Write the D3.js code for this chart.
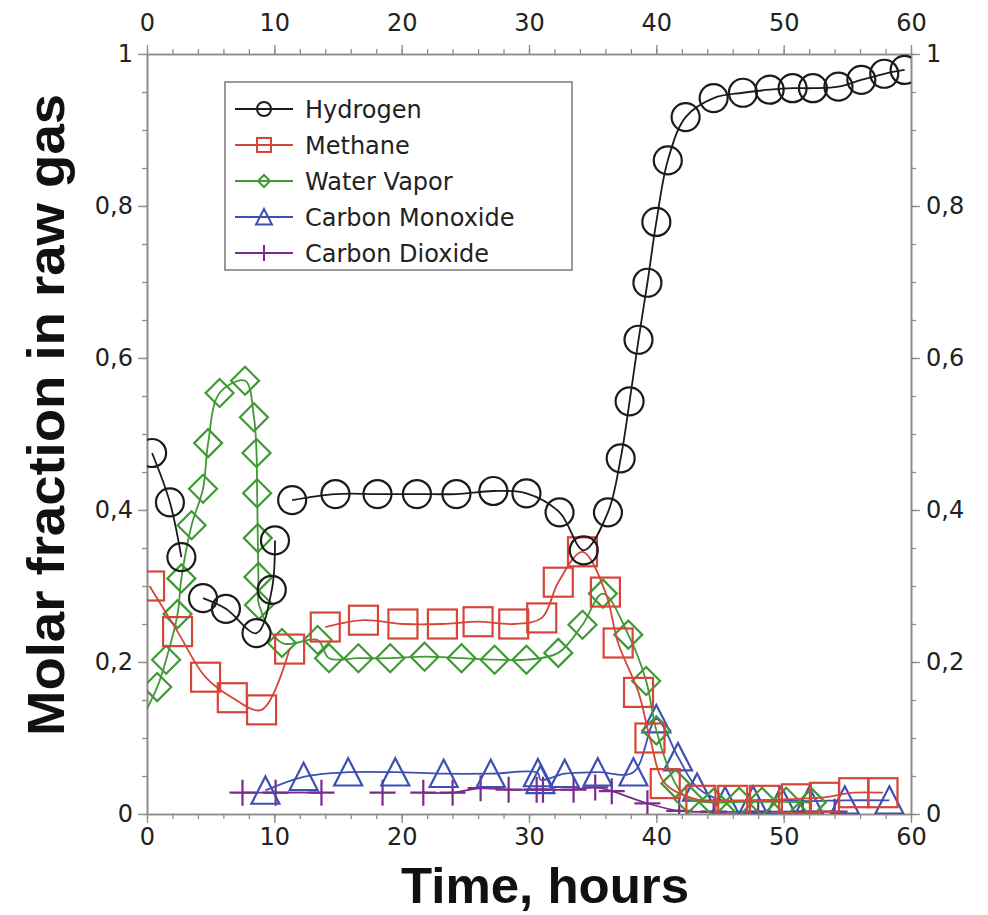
<!DOCTYPE html>
<html><head><meta charset="utf-8">
<script src="https://cdn.jsdelivr.net/npm/d3@7"></script>
<style>body{margin:0;background:#fff}svg{display:block}</style>
</head><body>
<svg id="c" width="988" height="915"></svg>
<script>
// ---------------- data ----------------
const xTicks = [0, 10, 20, 30, 40, 50, 60];
const yTicks = [0, 0.2, 0.4, 0.6, 0.8, 1];
const yTickLabels = ["0", "0,2", "0,4", "0,6", "0,8", "1"];
const seriesNames = ["Hydrogen", "Methane", "Water Vapor", "Carbon Monoxide", "Carbon Dioxide"];

const hydrogenX = [0.4, 1.8, 2.7, 4.4, 6.2, 8.6, 9.8, 10.05, 11.4, 14.8, 18.1, 21.2, 24.3, 27.2, 29.8, 32.4, 34.3, 36.2, 37.2, 37.9, 38.6, 39.3, 40.0, 40.9, 42.3, 44.5, 46.8, 48.9, 50.7, 52.3, 54.3, 56.1, 57.9, 59.5];
const hydrogenY = [0.475, 0.41, 0.338, 0.284, 0.27, 0.238, 0.295, 0.36, 0.413, 0.421, 0.421, 0.421, 0.421, 0.425, 0.422, 0.397, 0.347, 0.397, 0.468, 0.543, 0.624, 0.699, 0.779, 0.86, 0.917, 0.942, 0.949, 0.953, 0.955, 0.955, 0.957, 0.966, 0.974, 0.979];
const hydrogenBreaks = [3, 8];

const methaneX = [0.2, 2.4, 4.6, 6.7, 9.0, 11.2, 14.0, 17.0, 20.1, 23.2, 26.0, 28.8, 31.0, 32.3, 34.2, 36.0, 37.0, 38.6, 39.5, 40.7, 43.5, 46.0, 48.5, 51.0, 53.2, 55.5, 57.8];
const methaneY = [0.30, 0.24, 0.18, 0.153, 0.137, 0.217, 0.246, 0.255, 0.25, 0.25, 0.253, 0.25, 0.258, 0.305, 0.345, 0.292, 0.225, 0.16, 0.1, 0.04, 0.018, 0.018, 0.018, 0.02, 0.022, 0.028, 0.028];
const methaneBreaks = [6];

const waterX = [-1.2, 0.8, 1.5, 2.4, 2.7, 3.5, 4.4, 4.8, 5.7, 7.7, 8.4, 8.6, 8.65, 8.7, 8.75, 8.8, 10.6, 13.4, 14.3, 16.6, 19.1, 21.8, 24.7, 27.3, 29.8, 32.3, 34.2, 35.8, 37.8, 39.2, 40.0, 41.5, 42.5, 44.5, 46.5, 48.3, 50.2, 52.2];
const waterY = [0.10, 0.167, 0.203, 0.263, 0.31, 0.38, 0.428, 0.488, 0.554, 0.57, 0.522, 0.475, 0.422, 0.363, 0.312, 0.275, 0.225, 0.229, 0.205, 0.205, 0.205, 0.207, 0.205, 0.203, 0.203, 0.212, 0.249, 0.29, 0.236, 0.175, 0.11, 0.04, 0.02, 0.015, 0.016, 0.016, 0.016, 0.015];
const waterBreaks = [];

const coX = [9.3, 12.3, 15.8, 19.5, 23.3, 27.0, 30.7, 30.9, 32.8, 35.4, 38.2, 40.0, 41.7, 43.2, 45.4, 47.6, 49.8, 52.0, 54.8, 58.3];
const coY = [0.031, 0.049, 0.055, 0.055, 0.053, 0.053, 0.054, 0.045, 0.053, 0.055, 0.055, 0.125, 0.075, 0.035, 0.017, 0.018, 0.018, 0.017, 0.018, 0.018];
const coBreaks = [];

const co2X = [7.5, 10.1, 13.7, 18.5, 21.7, 24.0, 26.2, 28.4, 30.6, 31.1, 33.5, 35.2, 36.5, 39.3, 41.8, 44.5, 48.0, 51.5, 54.0];
const co2Y = [0.028, 0.028, 0.028, 0.028, 0.028, 0.028, 0.034, 0.032, 0.032, 0.032, 0.032, 0.035, 0.03, 0.014, 0.004, 0.003, 0.003, 0.003, 0.003];
const co2Breaks = [3, 4];

// ---------------- layout ----------------
const svg = d3.select("#c");
const L = 147, R = 911, T = 54, B = 814;
const x = d3.scaleLinear().domain([0, 60]).range([L, R]);
const y = d3.scaleLinear().domain([0, 1]).range([B, T]);

const colors = ["#1b1b1b", "#d6453a", "#3f9a34", "#3d4fb4", "#7a2c8c"];
const shapes = ["circle", "square", "diamond", "triangle", "plus"];

svg.append("defs").append("clipPath").attr("id", "clip")
  .append("rect").attr("x", L).attr("y", T).attr("width", R - L).attr("height", B - T);

// ---------------- axes ----------------
const axisColor = "#8c8c8c";
const tickFont = "'DejaVu Sans', Verdana, sans-serif";
const xMinor = d3.range(0, 61, 2);
const yMinor = d3.range(0, 1.0001, 0.05);

function styleAxis(g) {
  g.select(".domain").attr("stroke", axisColor).attr("stroke-width", 1.6);
  g.selectAll(".tick line").attr("stroke", axisColor).attr("stroke-width", 1.3);
  g.selectAll(".tick text").attr("fill", "#222").style("font-family", tickFont).style("font-size", "24px");
}
// minor ticks
svg.append("g").attr("transform", `translate(0,${B})`)
  .call(d3.axisBottom(x).tickValues(xMinor).tickSize(5).tickFormat("").tickSizeOuter(0)).call(styleAxis);
svg.append("g").attr("transform", `translate(0,${T})`)
  .call(d3.axisTop(x).tickValues(xMinor).tickSize(5).tickFormat("").tickSizeOuter(0)).call(styleAxis);
svg.append("g").attr("transform", `translate(${L},0)`)
  .call(d3.axisLeft(y).tickValues(yMinor).tickSize(5).tickFormat("").tickSizeOuter(0)).call(styleAxis);
svg.append("g").attr("transform", `translate(${R},0)`)
  .call(d3.axisRight(y).tickValues(yMinor).tickSize(5).tickFormat("").tickSizeOuter(0)).call(styleAxis);
// major ticks + labels
svg.append("g").attr("transform", `translate(0,${B})`)
  .call(d3.axisBottom(x).tickValues(xTicks).tickSize(9).tickPadding(5).tickFormat(d3.format("d")).tickSizeOuter(0)).call(styleAxis);
svg.append("g").attr("transform", `translate(0,${T})`)
  .call(d3.axisTop(x).tickValues(xTicks).tickSize(9).tickPadding(14).tickFormat(d3.format("d")).tickSizeOuter(0)).call(styleAxis);
svg.append("g").attr("transform", `translate(${L},0)`)
  .call(d3.axisLeft(y).tickValues(yTicks).tickSize(9).tickPadding(5).tickFormat((d, i) => yTickLabels[i]).tickSizeOuter(0)).call(styleAxis);
svg.append("g").attr("transform", `translate(${R},0)`)
  .call(d3.axisRight(y).tickValues(yTicks).tickSize(9).tickPadding(6).tickFormat((d, i) => yTickLabels[i]).tickSizeOuter(0)).call(styleAxis);

// ---------------- titles ----------------
const titleFont = "'Liberation Sans', Arial, sans-serif";
svg.append("text").attr("x", 545).attr("y", 903).attr("text-anchor", "middle")
  .style("font-family", titleFont).style("font-weight", "bold").style("font-size", "50px")
  .attr("fill", "#111").attr("textLength", 288).attr("lengthAdjust", "spacingAndGlyphs")
  .text("Time, hours");
svg.append("text").attr("transform", "translate(64,415) rotate(-90)").attr("text-anchor", "middle")
  .style("font-family", titleFont).style("font-weight", "bold").style("font-size", "52px")
  .attr("fill", "#111").attr("textLength", 642).attr("lengthAdjust", "spacingAndGlyphs")
  .text("Molar fraction in raw gas");

// ---------------- markers ----------------
function drawMarker(g, shape, cx, cy, s, color, sw) {
  if (shape === "circle") {
    g.append("circle").attr("cx", cx).attr("cy", cy).attr("r", s).attr("fill", "none").attr("stroke", color).attr("stroke-width", sw);
  } else if (shape === "square") {
    g.append("rect").attr("x", cx - s).attr("y", cy - s).attr("width", 2 * s).attr("height", 2 * s).attr("fill", "none").attr("stroke", color).attr("stroke-width", sw);
  } else if (shape === "diamond") {
    g.append("path").attr("d", `M${cx},${cy - s}L${cx + s},${cy}L${cx},${cy + s}L${cx - s},${cy}Z`).attr("fill", "none").attr("stroke", color).attr("stroke-width", sw);
  } else if (shape === "triangle") {
    const h = s * 1.0;
    g.append("path").attr("d", `M${cx},${cy - h}L${cx + s},${cy + h * 0.95}L${cx - s},${cy + h * 0.95}Z`).attr("fill", "none").attr("stroke", color).attr("stroke-width", sw).attr("stroke-linejoin", "miter");
  } else if (shape === "plus") {
    g.append("path").attr("d", `M${cx},${cy - s}V${cy + s}M${cx - s},${cy}H${cx + s}`).attr("fill", "none").attr("stroke", color).attr("stroke-width", sw);
  }
}

const series = [
  { xs: co2X, ys: co2Y, br: co2Breaks, idx: 4, size: 13 },
  { xs: coX, ys: coY, br: coBreaks, idx: 3, size: 14 },
  { xs: waterX, ys: waterY, br: waterBreaks, idx: 2, size: 14 },
  { xs: methaneX, ys: methaneY, br: methaneBreaks, idx: 1, size: 14.5 },
  { xs: hydrogenX, ys: hydrogenY, br: hydrogenBreaks, idx: 0, size: 14 }
];

const plot = svg.append("g").attr("clip-path", "url(#clip)");
const line = d3.line().x(d => x(d[0])).y(d => y(d[1])).curve(d3.curveCatmullRom.alpha(0.5));

series.forEach(s => {
  const pts = s.xs.map((v, i) => [v, s.ys[i]]);
  const starts = [0, ...s.br, pts.length];
  const g = plot.append("g");
  for (let k = 0; k < starts.length - 1; k++) {
    const seg = pts.slice(starts[k], starts[k + 1]);
    if (seg.length > 1) {
      g.append("path").attr("d", line(seg)).attr("fill", "none").attr("stroke", colors[s.idx]).attr("stroke-width", 1.8);
    }
  }
  pts.forEach(p => drawMarker(g, shapes[s.idx], x(p[0]), y(p[1]), s.size, colors[s.idx], 2.2));
});

// ---------------- legend ----------------
const lg = svg.append("g");
lg.append("rect").attr("x", 225).attr("y", 82).attr("width", 347).attr("height", 188)
  .attr("fill", "#fff").attr("stroke", "#7a7a7a").attr("stroke-width", 1.5);
const legendSizes = [7, 7, 6, 8, 8];
seriesNames.forEach((name, i) => {
  const cy = 109 + i * 36;
  lg.append("line").attr("x1", 235).attr("x2", 293).attr("y1", cy).attr("y2", cy)
    .attr("stroke", colors[i]).attr("stroke-width", 1.8);
  drawMarker(lg, shapes[i], 264, cy, legendSizes[i], colors[i], 2);
  lg.append("text").attr("x", 305).attr("y", cy + 9).text(name)
    .style("font-family", tickFont).style("font-size", "24px").attr("fill", "#222");
});
</script>
</body></html>
